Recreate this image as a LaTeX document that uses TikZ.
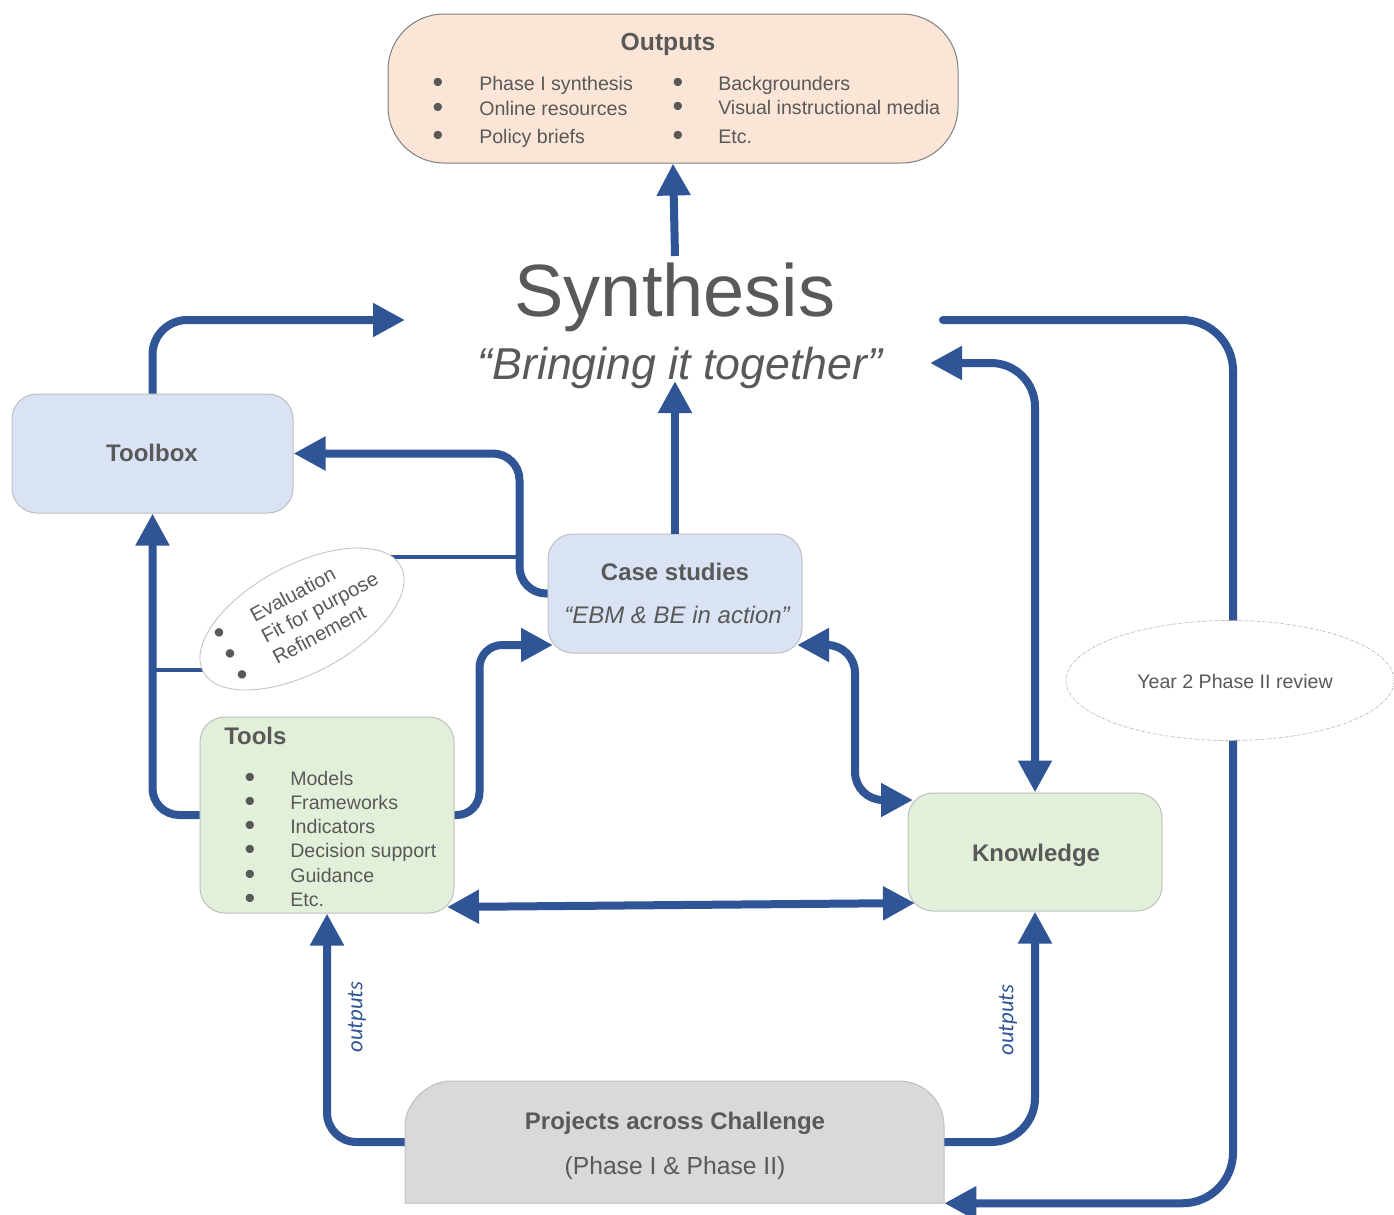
\documentclass[tikz,border=0pt]{standalone}
\usepackage{fontspec}
\setmainfont{Liberation Sans}
\newfontfamily\calib{Carlito}
\usetikzlibrary{arrows.meta,shapes.geometric}
\definecolor{ablue}{HTML}{2F5597}
\definecolor{tgray}{HTML}{595959}
\definecolor{bfill}{HTML}{DAE3F3}
\definecolor{gfill}{HTML}{E2F0D9}
\definecolor{ofill}{HTML}{FBE5D6}
\definecolor{pfill}{HTML}{D9D9D9}
\definecolor{lborder}{HTML}{BFBFBF}
\definecolor{oborder}{HTML}{7F7F7F}
\newcommand\mybul{\raisebox{-2.2pt}{\scalebox{1.55}{•}}}
\begin{document}
\begin{tikzpicture}[x=0.75pt,y=-0.75pt,
  box/.style={draw=lborder, line width=0.75pt, rounded corners=18.75pt, inner sep=0pt},
  conn/.style={draw=ablue, line width=6pt, -{Triangle[length=24pt,width=24pt]}},
  dconn/.style={draw=ablue, line width=6pt, {Triangle[length=24pt,width=24pt]}-{Triangle[length=24pt,width=24pt]}},
  thinconn/.style={draw=ablue, line width=2.4pt},
  txt/.style={text=tgray, inner sep=0pt, anchor=base, font=\fontsize{14.7}{17}\selectfont},
  hdr/.style={text=tgray, inner sep=0pt, anchor=base, font=\fontsize{18}{21}\selectfont\bfseries},
  ital/.style={text=tgray, inner sep=0pt, anchor=base, font=\fontsize{18}{21}\selectfont\itshape},
  lab/.style={rotate=90, text=ablue, inner sep=0pt, font=\calib\itshape\fontsize{17}{20}\selectfont}]
\fill[white] (0,0) rectangle (1394,1214);
\useasboundingbox (0,0) rectangle (1394,1214);

% boxes
\node[box, fill=ofill, draw=oborder, rounded corners=42pt, minimum width=427.5pt, minimum height=111.75pt] (outputs) at (673,88.5) {};
\node[box, fill=bfill, minimum width=210.75pt, minimum height=89.25pt] (toolbox) at (152.5,453.5) {};
\node[box, fill=bfill, minimum width=190.5pt, minimum height=89.25pt] (case) at (675,593.5) {};
\node[box, fill=gfill, minimum width=190.5pt, minimum height=147pt] (tools) at (327,815) {};
\node[box, fill=gfill, minimum width=190.5pt, minimum height=88.5pt] (know) at (1035,852) {};
\node[inner sep=0pt, minimum width=404.25pt, minimum height=91.5pt] (proj) at (674.5,1142) {};
\draw[draw=lborder, fill=pfill, line width=0.75pt] (405,1203) -- (405,1126)
  .. controls (405,1101.1) and (429.9,1081) .. (450,1081) -- (899,1081)
  .. controls (923.9,1081) and (944,1101.1) .. (944,1126) -- (944,1203) -- cycle;

% coordinates for free ends
\coordinate (s1) at (405,320);
\coordinate (s2) at (675,381);
\coordinate (s3) at (675,256);
\coordinate (s4) at (553,645);
\coordinate (s5) at (797,645);
\coordinate (s7) at (913,800);
\coordinate (s8) at (930,363);
\coordinate (s9) at (943,320);
\coordinate (s10) at (447,907);
\coordinate (s11) at (915,903);
\coordinate (e1) at (385,557);
\coordinate (e2) at (520,557);
\coordinate (e3) at (220,670);
\coordinate (e4) at (155,670);

% connectors
\draw[conn, rounded corners=26pt] (toolbox.north) |- (s1);
\draw[conn, rounded corners=20pt] (case.west) -- ++(-28,0) |- (toolbox.east);
\draw[conn] (case.north) -- (s2);
\draw[conn] (s3) -- (outputs.south);
\draw[conn, rounded corners=20pt] (tools.west) -| (toolbox.south);
\draw[conn, rounded corners=17pt] (tools.east) -- ++(25,0) |- (s4);
\draw[dconn, rounded corners=21pt] (s5) -- ++(58,0) |- (s7);
\draw[dconn, rounded corners=33pt] (s8) -| (know.north);
\draw[conn, line cap=round, rounded corners=38pt] (s9) -- ++(290,0) |- (proj.south east);
\draw[dconn] (s10) -- (s11);
\draw[conn, rounded corners=22pt] (proj.west) -| (tools.south);
\draw[conn, rounded corners=33pt] (proj.east) -| (know.south);
\draw[thinconn] (e1) -- (e2);
\draw[thinconn] (e3) -- (e4);

% ellipses
\node[ellipse, draw=lborder, fill=white, line width=0.6pt, rotate=28, minimum width=168pt, minimum height=81pt, inner sep=0pt] (eval) at (302,619) {};
\node[rotate=28, text=tgray, font=\fontsize{15}{18}\selectfont, align=left, inner sep=0pt] (evalT) at (302,618) {\makebox[31pt][l]{\mybul}Evaluation\\\makebox[31pt][l]{\mybul}Fit for purpose\\\makebox[31pt][l]{\mybul}Refinement};
\node[ellipse, draw=gray!60, dash pattern=on 2pt off 1pt on 0.5pt off 1pt, line width=0.5pt, fill=white, minimum width=246pt, minimum height=90pt, inner sep=0pt] (review) at (1230,680.5) {};
\node[txt] (reviewT) at (1235,688) {Year 2 Phase II review};

% texts
\node[hdr, font=\fontsize{18.5}{21}\selectfont\bfseries] (outT) at (668,50.5) {Outputs};
\foreach \y/\t [count=\i] in {90/Phase I synthesis, 115/Online resources, 143/Policy briefs} {
  \node[txt] (oab\i) at (438,\y) {\mybul};
  \node[txt, anchor=base west] (oat\i) at (479,\y) {\t};
}
\foreach \y/\t [count=\i] in {90/Backgrounders, 114/Visual instructional media, 143/Etc.} {
  \node[txt] (obb\i) at (678,\y) {\mybul};
  \node[txt, anchor=base west] (obt\i) at (718,\y) {\t};
}
\node[text=tgray, inner sep=0pt, anchor=base, font=\fontsize{55.5}{60}\selectfont] (synth) at (675,316) {Synthesis};
\node[text=tgray, inner sep=0pt, anchor=base, font=\fontsize{33.5}{38}\selectfont\itshape] (bring) at (680,379) {“Bringing it together”};
\node[hdr] (toolboxT) at (152,461.5) {Toolbox};
\node[hdr] (caseT) at (675,580.5) {Case studies};
\node[ital] (caseS) at (677,623.5) {“EBM \& BE in action”};
\node[hdr, anchor=base west] (toolsT) at (224,744.5) {Tools};
\foreach \y/\t [count=\i] in {785/Models, 809/Frameworks, 833/Indicators, 857/Decision support, 882/Guidance, 906/Etc.} {
  \node[txt] (tb\i) at (250,\y) {\mybul};
  \node[txt, anchor=base west] (tt\i) at (290,\y) {\t};
}
\node[hdr] (knowT) at (1036,861) {Knowledge};
\node[hdr] (projT) at (675,1129.5) {Projects across Challenge};
\node[txt, font=\fontsize{18.5}{21}\selectfont] (projS) at (675,1174) {(Phase I \& Phase II)};
\node[lab] (lab1) at (357,1017) {outputs};
\node[lab] (lab2) at (1008,1020) {outputs};
\end{tikzpicture}
\end{document}
